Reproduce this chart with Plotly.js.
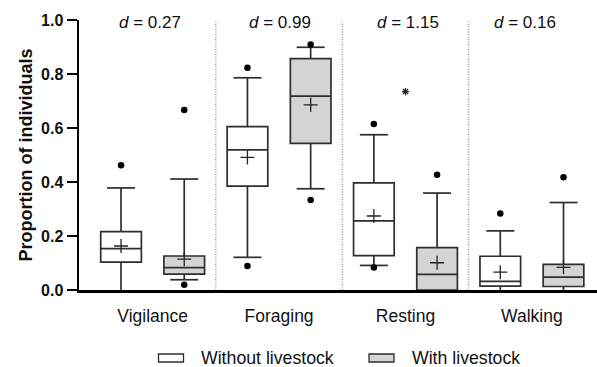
<!DOCTYPE html>
<html><head><meta charset="utf-8">
<script src="https://cdn.plot.ly/plotly-3.0.1.min.js"></script>
<style>html,body{margin:0;padding:0;background:#fff}</style>
</head><body><div id="chart" style="width:597px;height:367px"></div>
<script>
// ---- data ----
const behaviours = ['Vigilance', 'Foraging', 'Resting', 'Walking'];
const groups = ['Without livestock', 'With livestock'];
const cohenD = ['0.27', '0.99', '1.15', '0.16'];
// Without livestock
const woQ1 = [0.103, 0.385, 0.127, 0.014];
const woMedian = [0.153, 0.519, 0.256, 0.032];
const woQ3 = [0.216, 0.605, 0.397, 0.125];
const woLower = [0.0, 0.121, 0.091, 0.0];
const woUpper = [0.378, 0.786, 0.575, 0.219];
const woMean = [0.163, 0.491, 0.274, 0.066];
const woOutliers = [[0.462], [0.823, 0.089], [0.615, 0.083], [0.283]];
// With livestock
const wQ1 = [0.059, 0.543, 0.0, 0.013];
const wMedian = [0.083, 0.718, 0.058, 0.048];
const wQ3 = [0.126, 0.857, 0.157, 0.095];
const wLower = [0.038, 0.375, 0.0, 0.0];
const wUpper = [0.411, 0.899, 0.359, 0.324];
const wMean = [0.114, 0.686, 0.101, 0.084];
const wOutliers = [[0.667, 0.019], [0.909, 0.333], [0.427], [0.418]];
// significance marker
const sigBehaviour = 'Resting';
const sigY = 0.735;
const dLabelX = [0.46, 2.52, 4.54, 6.39];

// ---- build ----
const LINE = '#2e2e2e';
const FILL = ['#ffffff', '#d4d4d4'];
const posWo = behaviours.map((b, i) => 2 * i);
const posW = behaviours.map((b, i) => 2 * i + 1);
const FONT = 'Arial, "Liberation Sans", sans-serif';
const capVals = arr => arr.map(v => (v > 0 ? v : null)); // caps at 0 are hidden by the axis

function boxTrace(name, pos, q1, med, q3, lo, up, fill) {
  return {
    type: 'box', name: name, x: pos, q1: q1, median: med, q3: q3,
    lowerfence: lo, upperfence: up, boxpoints: false, width: 0.643,
    fillcolor: fill, line: {color: LINE, width: 1.7}, whiskerwidth: 0,
    showlegend: false, hoverinfo: 'skip'
  };
}
function flatten(pos, outs) {
  const xs = [], ys = [];
  outs.forEach((arr, i) => arr.forEach(v => { xs.push(pos[i]); ys.push(v); }));
  return {x: xs, y: ys};
}
const oWo = flatten(posWo, woOutliers);
const oW = flatten(posW, wOutliers);

const traces = [
  boxTrace(groups[0], posWo, woQ1, woMedian, woQ3, woLower, woUpper, FILL[0]),
  boxTrace(groups[1], posW, wQ1, wMedian, wQ3, wLower, wUpper, FILL[1]),
  // whisker caps
  {type: 'scatter', mode: 'markers', x: posWo.concat(posWo), y: woUpper.concat(capVals(woLower)),
   marker: {symbol: 'line-ew-open', size: 20, color: LINE, line: {color: LINE, width: 1.7}}, showlegend: false, hoverinfo: 'skip'},
  {type: 'scatter', mode: 'markers', x: posW.concat(posW), y: wUpper.concat(capVals(wLower)),
   marker: {symbol: 'line-ew-open', size: 20, color: LINE, line: {color: LINE, width: 1.7}}, showlegend: false, hoverinfo: 'skip'},
  // means
  {type: 'scatter', mode: 'markers', x: posWo.concat(posW), y: woMean.concat(wMean),
   marker: {symbol: 'cross-thin-open', size: 10, color: '#222', line: {color: '#222', width: 1.3}}, showlegend: false, hoverinfo: 'skip'},
  // outliers
  {type: 'scatter', mode: 'markers', x: oWo.x.concat(oW.x), y: oWo.y.concat(oW.y),
   marker: {symbol: 'circle', size: 6.5, color: '#000'}, showlegend: false, hoverinfo: 'skip', cliponaxis: false},
  // significance
  {type: 'scatter', mode: 'markers', x: [2 * behaviours.indexOf(sigBehaviour) + 0.5], y: [sigY],
   marker: {symbol: 'asterisk-open', size: 6, color: '#222', line: {color: '#222', width: 1.3}}, showlegend: false, hoverinfo: 'skip'}
];

const L = 79, R = 0, T = 20, B = 77, W = 597, H = 367;
const pw = W - L - R, ph = H - T - B;
const px2x = p => (p - L) / pw;
const py2y = p => (H - B - p) / ph;

const shapes = [];
for (let i = 0; i < behaviours.length - 1; i++) {
  shapes.push({type: 'line', xref: 'x', yref: 'y', x0: 2 * i + 1.5, x1: 2 * i + 1.5, y0: 0, y1: 1,
    line: {color: '#777', width: 1, dash: '1px,1.5px'}, layer: 'below'});
}
// legend boxes
const legBoxX = [158.5, 369];
const legTextX = [199, 410];
legBoxX.forEach((bx, i) => shapes.push({type: 'rect', xref: 'paper', yref: 'paper',
  x0: px2x(bx), x1: px2x(bx + 25), y0: py2y(362), y1: py2y(354),
  fillcolor: FILL[i], line: {color: LINE, width: 1.3}}));

const annotations = cohenD.map((d, i) => ({
  xref: 'x', yref: 'paper', x: dLabelX[i], y: py2y(23), yanchor: 'middle', xanchor: 'center',
  text: '<i>d</i> = ' + d, showarrow: false, font: {size: 17, color: '#111', family: FONT}
}));
groups.forEach((g, i) => annotations.push({
  xref: 'paper', yref: 'paper', x: px2x(legTextX[i]), y: py2y(358), xanchor: 'left', yanchor: 'middle',
  text: g, showarrow: false, font: {size: 17.7, color: '#111', family: FONT}
}));

const layout = {
  width: W, height: H, margin: {l: L, r: R, t: T, b: B},
  paper_bgcolor: '#fff', plot_bgcolor: '#fff',
  font: {family: FONT, color: '#111'},
  xaxis: {range: [-0.665, 7.53], showline: true, linewidth: 2.5, linecolor: '#000',
    showgrid: false, zeroline: false, ticks: '', tickvals: behaviours.map((b, i) => 2 * i + 0.5),
    ticktext: behaviours, tickfont: {size: 17.5, family: FONT, color: '#111'}, ticklabelstandoff: 8},
  yaxis: {range: [0, 1], showline: true, linewidth: 2.5, linecolor: '#000', showgrid: false, zeroline: false,
    ticks: 'outside', ticklen: 10, tickwidth: 2.5, tickcolor: '#000',
    tickvals: [0, 0.2, 0.4, 0.6, 0.8, 1.0], tickformat: '.1f',
    tickfont: {size: 16, family: FONT, color: '#111', weight: 'bold'},
    title: {text: 'Proportion of individuals', font: {size: 18, family: FONT, color: '#111', weight: 'bold'}, standoff: 4}},
  showlegend: false, shapes: shapes, annotations: annotations
};
Plotly.newPlot('chart', traces, layout, {displayModeBar: false, staticPlot: true});
</script></body></html>
